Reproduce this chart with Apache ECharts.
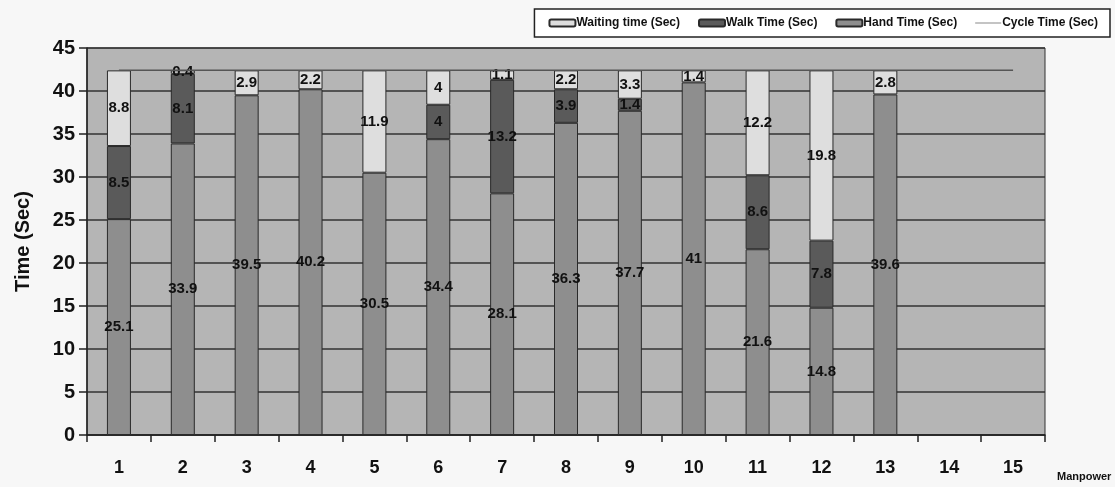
<!DOCTYPE html>
<html><head><meta charset="utf-8">
<script src="https://cdn.jsdelivr.net/npm/echarts@6/dist/echarts.min.js"></script>
<style>html,body{margin:0;padding:0;background:#f7f7f7;}#c{width:1115px;height:487px;}</style>
</head><body><div id="c"></div>
<script>
const categories = ['1','2','3','4','5','6','7','8','9','10','11','12','13','14','15'];
const handTime = [25.1, 33.9, 39.5, 40.2, 30.5, 34.4, 28.1, 36.3, 37.7, 41, 21.6, 14.8, 39.6, null, null];
const walkTime = [8.5, 8.1, null, null, null, 4, 13.2, 3.9, 1.4, null, 8.6, 7.8, null, null, null];
const waitingTime = [8.8, 0.4, 2.9, 2.2, 11.9, 4, 1.1, 2.2, 3.3, 1.4, 12.2, 19.8, 2.8, null, null];
const cycleTime = [42.4, 42.4, 42.4, 42.4, 42.4, 42.4, 42.4, 42.4, 42.4, 42.4, 42.4, 42.4, 42.4, 42.4, 42.4];
const yTicks = { min: 0, max: 45, interval: 5 };

const labelFont = { show: true, position: 'inside', color: '#111', fontWeight: 'bold', fontSize: 15,
  fontFamily: '"Liberation Sans Narrow","Liberation Sans",Arial,sans-serif',
  formatter: p => (p.value == null || p.value === 0) ? '' : String(p.value) };

const chart = echarts.init(document.getElementById('c'), null, { renderer: 'canvas' });
chart.setOption({
  animation: false,
  backgroundColor: '#f7f7f7',
  textStyle: { fontFamily: '"Liberation Sans",Arial,sans-serif' },
  legend: {
    right: 5, top: 9, itemGap: 18, itemWidth: 26, itemHeight: 7,
    backgroundColor: '#ffffff', borderColor: '#222', borderWidth: 1.5,
    padding: [8, 12, 8, 14],
    textStyle: { fontSize: 12, fontWeight: 'bold', color: '#111',
      fontFamily: '"Liberation Sans Narrow","Liberation Sans",Arial,sans-serif', padding: [0,0,0,-4] },
    data: [
      { name: 'Waiting time (Sec)' },
      { name: 'Walk Time (Sec)' },
      { name: 'Hand Time (Sec)' },
      { name: 'Cycle Time (Sec)', icon: 'path://M0,0 L26,0 L26,1 L0,1 Z', itemStyle: { color: '#888' } }
    ]
  },
  grid: { left: 87, right: 70, top: 48, bottom: 52, show: true, backgroundColor: '#b5b5b5', borderColor: '#333', borderWidth: 1 },
  xAxis: {
    type: 'category', data: categories,
    name: 'Manpower', nameLocation: 'end', nameGap: 12,
    nameTextStyle: { fontSize: 11, fontWeight: 'bold', color: '#111', verticalAlign: 'top', padding: [36, 0, 0, 0] },
    axisLine: { lineStyle: { color: '#222', width: 1.5 } },
    axisTick: { show: true, alignWithLabel: false, length: 7, lineStyle: { color: '#222', width: 1.5 } },
    axisLabel: { fontSize: 18, color: '#111', margin: 24, fontWeight: 'bold' },
    splitLine: { show: false }
  },
  yAxis: {
    type: 'value', min: yTicks.min, max: yTicks.max, interval: yTicks.interval,
    name: 'Time (Sec)', nameLocation: 'middle', nameGap: 54, nameRotate: 90,
    nameTextStyle: { fontSize: 20, fontWeight: 'bold', color: '#111' },
    axisLine: { show: true, lineStyle: { color: '#222', width: 1.5 } },
    axisTick: { show: true, length: 8, lineStyle: { color: '#222', width: 1.5 } },
    axisLabel: { fontSize: 20, color: '#111', margin: 12, fontWeight: 'bold' },
    splitLine: { show: true, lineStyle: { color: '#333', width: 1.5 } }
  },
  series: [
    { name: 'Hand Time (Sec)', type: 'bar', stack: 't', data: handTime, barWidth: 24,
      itemStyle: { color: '#8e8e8e', borderColor: '#2a2a2a', borderWidth: 1 }, label: labelFont },
    { name: 'Walk Time (Sec)', type: 'bar', stack: 't', data: walkTime, barWidth: 24,
      itemStyle: { color: '#5a5a5a', borderColor: '#2a2a2a', borderWidth: 1 }, label: labelFont },
    { name: 'Waiting time (Sec)', type: 'bar', stack: 't', data: waitingTime, barWidth: 24,
      itemStyle: { color: '#dedede', borderColor: '#2a2a2a', borderWidth: 1 }, label: labelFont },
    { name: 'Cycle Time (Sec)', type: 'line', data: cycleTime, symbol: 'none', z: 5,
      lineStyle: { color: '#555', width: 1.5 }, itemStyle: { color: '#888' } }
  ]
});
</script></body></html>
